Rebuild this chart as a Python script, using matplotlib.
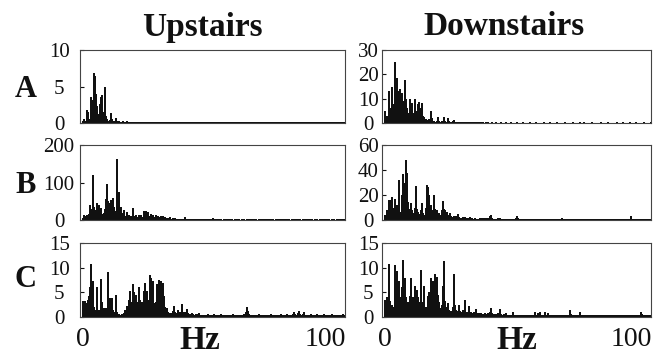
import numpy as np
import matplotlib.pyplot as plt

plt.rcParams['font.family'] = ['Liberation Serif', 'DejaVu Serif']

# amplitude spectra, one value every 0.5 Hz from 0 to 109.5 Hz
hz = np.arange(0, 110, 0.5)

a_up = [
    0.3, 0.5, 0.3, 1.8, 1.5, 0.4, 0.6, 3.5, 3.2, 6.9, 6.4, 4.0, 2.3, 1.2, 2.6, 3.5, 3.9, 1.5, 5.0, 1.0,
    0.5, 0.3, 0.4, 1.4, 0.5, 0.2, 0.3, 0.7, 0.3, 0.2, 0.3, 0.2, 0.2, 0.3, 0.2, 0.2, 0.3, 0.1, 0.2, 0.2,
    0.1, 0.2, 0.1, 0.2, 0.1, 0.1, 0.2, 0.1, 0.1, 0.2, 0.1, 0.1, 0.1, 0.2, 0.1, 0.1, 0.2, 0.1, 0.1, 0.1,
    0.2, 0.1, 0.1, 0.1, 0.2, 0.1, 0.1, 0.1, 0.1, 0.2, 0.1, 0.1, 0.1, 0.1, 0.2, 0.1, 0.1, 0.2, 0.1, 0.1,
    0.1, 0.1, 0.2, 0.1, 0.1, 0.1, 0.2, 0.1, 0.1, 0.1, 0.1, 0.2, 0.1, 0.1, 0.1, 0.1, 0.1, 0.2, 0.1, 0.1,
    0.1, 0.2, 0.1, 0.1, 0.1, 0.1, 0.1, 0.2, 0.1, 0.1, 0.1, 0.1, 0.2, 0.1, 0.1, 0.1, 0.1, 0.1, 0.2, 0.1,
    0.1, 0.1, 0.1, 0.2, 0.1, 0.1, 0.1, 0.1, 0.1, 0.2, 0.1, 0.1, 0.1, 0.1, 0.2, 0.1, 0.1, 0.1, 0.1, 0.1,
    0.2, 0.1, 0.1, 0.1, 0.1, 0.1, 0.2, 0.1, 0.1, 0.1, 0.1, 0.1, 0.1, 0.2, 0.1, 0.1, 0.1, 0.1, 0.2, 0.1,
    0.1, 0.1, 0.2, 0.1, 0.1, 0.1, 0.1, 0.1, 0.2, 0.1, 0.1, 0.1, 0.1, 0.1, 0.1, 0.2, 0.1, 0.1, 0.1, 0.1,
    0.1, 0.2, 0.1, 0.1, 0.1, 0.1, 0.1, 0.1, 0.2, 0.1, 0.1, 0.1, 0.1, 0.2, 0.1, 0.1, 0.1, 0.1, 0.1, 0.2,
    0.1, 0.1, 0.1, 0.1, 0.2, 0.1, 0.1, 0.1, 0.1, 0.1, 0.2, 0.1, 0.1, 0.1, 0.1, 0.1, 0.2, 0.1, 0.1, 0.1,
]

a_down = [
    5.0, 2.0, 3.0, 13.0, 6.0, 4.0, 15.0, 8.0, 25.0, 12.0, 18.5, 13.0, 14.0, 11.0, 12.4, 9.0, 17.8, 10.0, 6.0, 4.0,
    9.7, 5.0, 8.4, 4.0, 9.7, 5.0, 3.0, 7.7, 8.8, 6.0, 8.4, 3.0, 2.5, 1.5, 1.2, 1.0, 1.5, 5.0, 2.0, 1.0,
    0.8, 0.6, 0.8, 2.3, 1.0, 0.6, 0.8, 1.0, 2.3, 0.8, 0.6, 2.0, 0.8, 0.5, 0.6, 0.8, 1.3, 0.5, 0.4, 0.5,
    0.6, 0.4, 0.5, 0.4, 0.5, 0.3, 0.4, 0.5, 0.4, 0.3, 0.4, 0.3, 0.3, 0.4, 0.3, 0.3, 0.3, 0.4, 0.3, 0.3,
    0.3, 0.2, 0.3, 0.2, 0.3, 0.2, 0.2, 0.3, 0.2, 0.2, 0.3, 0.2, 0.2, 0.2, 0.3, 0.2, 0.2, 0.2, 0.3, 0.2,
    0.2, 0.2, 0.3, 0.2, 0.2, 0.2, 0.2, 0.3, 0.2, 0.2, 0.2, 0.2, 0.3, 0.2, 0.2, 0.2, 0.2, 0.2, 0.3, 0.2,
    0.2, 0.2, 0.2, 0.3, 0.2, 0.2, 0.2, 0.2, 0.2, 0.3, 0.2, 0.2, 0.2, 0.2, 0.3, 0.2, 0.2, 0.2, 0.2, 0.2,
    0.3, 0.2, 0.2, 0.2, 0.2, 0.2, 0.3, 0.2, 0.2, 0.2, 0.2, 0.2, 0.2, 0.3, 0.2, 0.2, 0.2, 0.2, 0.3, 0.2,
    0.2, 0.2, 0.3, 0.2, 0.2, 0.2, 0.2, 0.2, 0.3, 0.2, 0.2, 0.2, 0.2, 0.2, 0.2, 0.3, 0.2, 0.2, 0.2, 0.2,
    0.2, 0.3, 0.2, 0.2, 0.2, 0.2, 0.2, 0.2, 0.3, 0.2, 0.2, 0.2, 0.2, 0.3, 0.2, 0.2, 0.2, 0.2, 0.2, 0.3,
    0.2, 0.2, 0.2, 0.2, 0.3, 0.2, 0.2, 0.2, 0.2, 0.2, 0.3, 0.2, 0.2, 0.2, 0.2, 0.2, 0.3, 0.2, 0.2, 0.2,
]

b_up = [
    5, 13, 10, 13, 8, 15, 40, 30, 119, 35, 27, 20, 45, 40, 25, 31, 15, 20, 30, 56,
    95, 50, 45, 54, 40, 59, 36, 25, 162, 70, 75, 36, 20, 15, 27, 12, 22, 10, 13, 8,
    10, 33, 12, 8, 13, 7, 13, 9, 13, 8, 25, 14, 25, 12, 22, 10, 16, 9, 13, 8,
    13, 10, 10, 8, 10, 6, 10, 5, 7, 5, 6, 4, 7, 4, 5, 4, 5, 3, 4, 3,
    4, 3, 3, 3, 7, 3, 3, 2, 3, 2, 2, 2, 3, 2, 2, 2, 2, 2, 3, 2,
    2, 2, 2, 2, 3, 2, 2, 5, 2, 2, 2, 2, 2, 2, 2, 1, 2, 2, 1, 2,
    2, 1, 2, 2, 1, 2, 2, 1, 2, 2, 1, 2, 3, 2, 1, 2, 2, 1, 2, 2,
    1, 2, 2, 2, 1, 2, 2, 1, 2, 2, 2, 1, 2, 2, 1, 2, 3, 2, 1, 2,
    2, 1, 2, 2, 1, 2, 2, 2, 1, 2, 2, 1, 2, 2, 2, 1, 2, 2, 3, 2,
    1, 2, 2, 1, 2, 2, 2, 1, 2, 2, 1, 2, 2, 2, 1, 2, 2, 1, 2, 2,
    2, 1, 2, 2, 1, 2, 2, 2, 1, 2, 2, 1, 2, 2, 2, 1, 2, 2, 1, 2,
]

b_down = [
    4.0, 2.0, 8.0, 16.0, 12.0, 16.0, 18.7, 10.0, 17.0, 9.0, 12.0, 32.0, 6.7, 5.0, 20.0, 37.0, 30.0, 48.0, 38.0, 14.7,
    9.0, 13.3, 8.0, 6.0, 10.0, 27.0, 9.0, 6.7, 5.0, 8.0, 13.3, 6.0, 4.0, 10.0, 28.0, 26.7, 20.0, 12.0, 8.0, 7.0,
    20.0, 9.0, 8.0, 5.0, 6.0, 4.0, 8.0, 15.2, 9.0, 8.0, 6.7, 4.0, 3.0, 5.3, 3.0, 2.5, 3.0, 2.0, 3.0, 4.8,
    2.5, 2.0, 2.0, 2.5, 2.0, 2.7, 2.0, 1.5, 2.0, 2.7, 1.5, 1.5, 1.2, 1.5, 1.2, 1.0, 1.2, 1.5, 2.0, 1.5,
    2.0, 1.5, 2.0, 1.2, 2.0, 3.0, 4.0, 2.0, 1.2, 1.0, 1.0, 1.0, 1.5, 2.0, 1.0, 0.8, 0.8, 0.8, 0.8, 0.8,
    0.8, 0.8, 0.8, 0.8, 0.8, 0.8, 1.5, 3.0, 1.5, 0.8, 0.8, 0.8, 0.8, 0.6, 0.6, 0.8, 0.6, 0.6, 0.8, 0.6,
    0.6, 0.5, 0.6, 0.6, 0.5, 0.6, 0.8, 0.6, 0.5, 0.6, 0.6, 0.5, 0.6, 0.6, 0.5, 0.6, 0.6, 0.5, 0.6, 0.6,
    0.5, 0.6, 0.6, 0.8, 2.0, 1.2, 0.6, 0.5, 0.6, 0.6, 0.5, 0.6, 0.6, 0.5, 0.6, 0.6, 0.5, 0.6, 0.6, 0.5,
    0.6, 0.5, 0.6, 0.6, 0.5, 0.6, 0.6, 0.5, 0.6, 0.6, 0.5, 0.6, 0.8, 0.6, 0.5, 0.6, 0.6, 0.5, 0.6, 0.8,
    0.6, 0.5, 0.6, 0.6, 0.5, 0.6, 0.6, 0.5, 0.6, 0.6, 0.5, 0.6, 0.6, 0.5, 0.6, 0.8, 1.2, 0.6, 0.5, 0.6,
    3.0, 1.2, 0.6, 0.5, 0.6, 0.6, 0.5, 0.6, 0.6, 0.5, 0.6, 0.6, 0.5, 0.6, 0.6, 0.5, 0.6, 0.6, 0.5, 0.6,
]

c_up = [
    3.3, 2.5, 3.3, 2.8, 3.5, 4.2, 6.0, 10.7, 7.2, 2.0, 1.5, 1.2, 6.0, 1.5, 1.2, 7.8, 3.0, 1.8, 1.2, 1.8,
    1.5, 9.1, 3.9, 2.0, 3.9, 1.5, 1.0, 4.5, 1.0, 0.6, 0.6, 0.5, 0.6, 0.6, 0.8, 1.5, 2.2, 1.5, 3.5, 5.3,
    3.0, 6.6, 5.0, 3.9, 4.5, 3.0, 6.0, 3.5, 2.5, 3.0, 5.2, 6.9, 4.0, 5.3, 3.5, 8.6, 7.9, 5.0, 7.2, 2.8,
    3.0, 6.6, 4.0, 7.4, 7.2, 5.0, 6.9, 4.2, 2.0, 1.8, 1.0, 0.8, 0.6, 0.8, 1.2, 2.2, 1.0, 0.8, 1.5, 1.0,
    0.8, 1.0, 2.6, 1.0, 0.8, 1.0, 1.7, 0.8, 0.6, 0.6, 0.8, 0.6, 0.5, 0.6, 0.5, 0.6, 0.8, 0.5, 0.4, 0.5,
    0.4, 0.5, 0.4, 0.6, 0.4, 0.4, 0.5, 0.4, 0.6, 0.4, 0.4, 0.5, 0.4, 0.4, 0.6, 0.4, 0.5, 0.4, 0.4, 0.5,
    0.4, 0.4, 0.5, 0.4, 0.6, 0.4, 0.4, 0.5, 0.4, 0.4, 0.5, 0.4, 0.4, 0.6, 1.0, 2.0, 1.2, 0.6, 0.4, 0.5,
    0.4, 0.4, 0.5, 0.4, 0.4, 0.6, 0.4, 0.4, 0.5, 0.4, 0.4, 0.5, 0.4, 0.4, 0.5, 0.6, 0.4, 0.4, 0.5, 0.4,
    0.4, 0.5, 0.4, 0.6, 0.4, 0.4, 0.5, 0.4, 0.6, 0.4, 0.5, 0.4, 0.4, 0.6, 1.1, 0.6, 0.5, 0.8, 1.3, 0.6,
    0.5, 0.6, 1.0, 0.5, 0.4, 0.5, 0.4, 0.4, 0.6, 0.4, 0.4, 0.5, 0.4, 0.6, 0.4, 0.4, 0.5, 0.4, 0.4, 0.6,
    0.4, 0.4, 0.5, 0.4, 0.4, 0.6, 0.4, 0.4, 0.5, 0.4, 0.4, 0.5, 0.4, 0.4, 0.6, 0.4, 0.4, 0.5, 0.4, 0.4,
]

c_down = [
    3.5, 1.5, 4.0, 10.7, 3.2, 1.5, 2.5, 2.0, 10.6, 6.0, 9.3, 7.2, 4.0, 3.5, 6.0, 11.6, 7.9, 4.0, 2.2, 3.0,
    4.2, 8.0, 3.2, 4.0, 6.2, 3.0, 5.5, 4.0, 3.0, 9.6, 2.5, 3.0, 6.2, 2.0, 1.8, 4.2, 5.0, 7.9, 5.9, 7.2,
    6.0, 8.7, 8.2, 4.5, 3.0, 1.8, 2.5, 6.2, 11.4, 3.2, 2.0, 2.8, 1.5, 0.8, 1.2, 2.0, 8.7, 2.5, 1.5, 1.2,
    2.5, 1.2, 1.0, 1.5, 1.0, 3.5, 0.8, 1.0, 2.2, 1.0, 1.1, 0.8, 1.0, 0.8, 1.6, 0.8, 0.8, 0.6, 0.8, 0.6,
    0.6, 0.8, 0.6, 0.6, 0.8, 1.0, 1.8, 0.8, 0.6, 0.6, 0.5, 0.6, 0.8, 1.6, 0.6, 0.5, 0.5, 0.6, 0.8, 0.5,
    0.4, 0.5, 0.4, 0.4, 1.0, 0.5, 0.4, 0.4, 0.5, 0.4, 0.4, 0.5, 0.4, 0.4, 0.5, 0.4, 0.4, 0.5, 0.4, 0.4,
    0.5, 0.4, 1.0, 0.5, 0.8, 0.4, 1.0, 0.5, 0.4, 0.5, 1.0, 0.5, 0.8, 0.5, 0.4, 0.4, 0.5, 0.4, 0.4, 0.5,
    0.4, 0.4, 0.5, 0.4, 0.4, 0.5, 0.4, 0.5, 0.4, 0.4, 1.5, 0.6, 0.4, 0.5, 0.4, 0.4, 0.5, 0.4, 1.0, 0.5,
    0.4, 0.4, 0.5, 0.4, 0.4, 0.5, 0.4, 0.4, 0.5, 0.4, 0.4, 0.5, 0.4, 0.4, 0.5, 0.4, 0.4, 0.5, 0.4, 0.4,
    0.5, 0.4, 0.4, 0.5, 0.4, 0.4, 0.5, 0.4, 0.4, 0.5, 0.4, 0.4, 0.5, 0.4, 0.4, 0.5, 0.4, 0.4, 0.5, 0.4,
    0.4, 0.5, 0.4, 0.4, 0.5, 0.4, 0.4, 0.5, 1.0, 0.6, 0.4, 0.5, 0.4, 0.4, 0.5, 0.4, 0.4, 0.5, 0.4, 0.4,
]

columns = ['Upstairs', 'Downstairs']
rows = ['A', 'B', 'C']
spectra = [[a_up, a_down], [b_up, b_down], [c_up, c_down]]
yticks = [[[0, 5, 10], [0, 10, 20, 30]],
          [[0, 100, 200], [0, 20, 40, 60]],
          [[0, 5, 10, 15], [0, 5, 10, 15]]]

W, H = 669, 357
fig = plt.figure(figsize=(W / 100, H / 100), dpi=100)

# panel boxes in pixels: left, right, top, bottom
col_x = [(80, 345), (382, 651)]
row_y = [(50, 123), (145, 220), (243, 317)]
ink = '#111111'

for r in range(3):
    for c in range(2):
        x0, x1 = col_x[c]
        y0, y1 = row_y[r]
        ax = fig.add_axes([x0 / W, 1 - y1 / H, (x1 - x0) / W, (y1 - y0) / H])
        ax.vlines(hz, 0, spectra[r][c], color=ink, lw=1.2, antialiased=False)
        ax.set_xlim(-1.2, 108)
        ax.set_ylim(0, yticks[r][c][-1])
        ax.set_yticks(yticks[r][c])
        ax.tick_params(axis='y', direction='in', length=3, width=0.8,
                       labelsize=15, pad=15 if c == 0 else 10, colors=ink)
        for lab in ax.get_yticklabels():
            lab.set_horizontalalignment('center')
        if r == 2:
            ax.set_xticks([0, 100])
            ax.tick_params(axis='x', length=0, labelsize=20, pad=7, colors=ink)
        else:
            ax.set_xticks([])
        for s in ax.spines.values():
            s.set_color('#444444')
            s.set_linewidth(0.8)

# column titles, row letters and the Hz labels
fig.text(202 / W, 1 - 36 / H, columns[0], ha='center', va='baseline',
         fontsize=24, fontweight='bold', color=ink)
fig.text(504 / W, 1 - 35 / H, columns[1], ha='center', va='baseline',
         fontsize=24, fontweight='bold', color=ink)
for lab, base in zip(rows, [97, 193, 287]):
    fig.text(26 / W, 1 - base / H, lab, ha='center', va='baseline',
             fontsize=22, fontweight='bold', color=ink)
for xc in [200, 517]:
    fig.text(xc / W, 1 - 349 / H, 'Hz', ha='center', va='baseline',
             fontsize=24, fontweight='bold', color=ink)

fig.savefig('out.png', dpi=100)
